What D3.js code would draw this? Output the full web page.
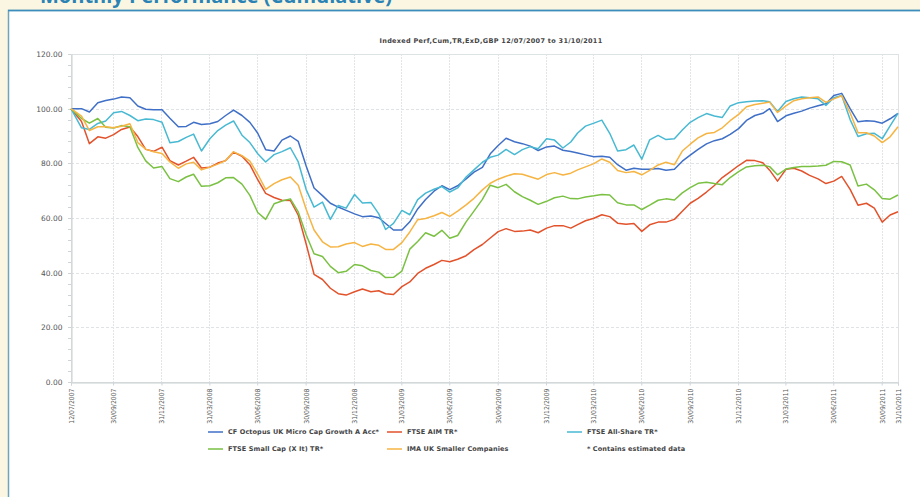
<!DOCTYPE html>
<html>
<head>
<meta charset="utf-8">
<script src="https://cdn.jsdelivr.net/npm/d3@7"></script>
<style>
body { margin: 0; background: #faf6e1; }
svg { display: block; font-family: "DejaVu Sans", sans-serif; }
</style>
</head>
<body>
<svg width="920" height="497"></svg>
<script>
// semi-monthly sample dates
var dates = [
  "2007-07-12","2007-08-01","2007-08-16","2007-09-01","2007-09-16","2007-10-01","2007-10-16","2007-11-01","2007-11-16","2007-12-01","2007-12-16",
  "2008-01-01","2008-01-16","2008-02-01","2008-02-16","2008-03-01","2008-03-16","2008-04-01","2008-04-16","2008-05-01","2008-05-16","2008-06-01","2008-06-16",
  "2008-07-01","2008-07-16","2008-08-01","2008-08-16","2008-09-01","2008-09-16","2008-10-01","2008-10-16","2008-11-01","2008-11-16","2008-12-01","2008-12-16",
  "2009-01-01","2009-01-16","2009-02-01","2009-02-16","2009-03-01","2009-03-16","2009-04-01","2009-04-16","2009-05-01","2009-05-16","2009-06-01","2009-06-16",
  "2009-07-01","2009-07-16","2009-08-01","2009-08-16","2009-09-01","2009-09-16","2009-10-01","2009-10-16","2009-11-01","2009-11-16","2009-12-01","2009-12-16",
  "2010-01-01","2010-01-16","2010-02-01","2010-02-16","2010-03-01","2010-03-16","2010-04-01","2010-04-16","2010-05-01","2010-05-16","2010-06-01","2010-06-16",
  "2010-07-01","2010-07-16","2010-08-01","2010-08-16","2010-09-01","2010-09-16","2010-10-01","2010-10-16","2010-11-01","2010-11-16","2010-12-01","2010-12-16",
  "2011-01-01","2011-01-16","2011-02-01","2011-02-16","2011-03-01","2011-03-16","2011-04-01","2011-04-16","2011-05-01","2011-05-16","2011-06-01","2011-06-16",
  "2011-07-01","2011-07-16","2011-08-01","2011-08-16","2011-09-01","2011-09-16","2011-10-01","2011-10-16","2011-10-31"
];

var octopus = [
  100,100,98.8,102.2,103,103.5,104.3,104,101,99.8,99.6,
  99.6,96.5,93.4,93.5,95,94.2,94.5,95.3,97.5,99.5,97.5,95,91,85,84.5,88.5,90,88,79,71,68.2,65.4,64,62.8,
  61.5,60.5,60.7,60.1,58,55.6,55.6,58.6,63.3,66.8,69.8,71.8,70.4,71.8,74.3,76.8,78.5,83.5,86.5,89.2,87.9,87.2,86.3,84.7,
  86,86.3,84.8,84.3,83.8,83.1,82.4,82.6,82.2,79.5,77.5,78.2,77.8,77.8,78.1,77.5,77.8,80.8,83,85.1,87.1,88.3,89,90.6,
  92.7,95.7,97.5,98.3,100,95.3,97.4,98.3,99.1,100.2,101.1,101.8,104.8,105.6,100,95.2,95.6,95.4,94.7,96.3,98.3
];
var aim = [
  100,95.3,87.2,89.7,89.2,90.5,92.4,93.3,89.8,85.1,84.4,
  85.9,81,79.4,80.8,82.2,78.3,78.6,80.1,81,84.1,82.6,79.5,74,69,67.5,66.5,66.4,61,50.5,39.4,37.5,34.3,32.3,31.8,
  33,34,33,33.4,32.3,32,34.9,36.6,39.7,41.6,43,44.5,44,44.9,46.2,48.4,50.3,52.7,55,56.1,55.1,55.2,55.6,54.6,
  56.3,57.2,57.2,56.3,57.6,59,59.9,61.2,60.5,58.1,57.7,58,55.1,57.5,58.5,58.5,59.5,62.5,65.4,67.2,69.5,71.9,74.8,76.9,
  79.2,81.1,81,80.2,77.5,73.5,77.8,78.2,77.2,75.6,74.3,72.6,73.5,75.2,70.5,64.7,65.4,63.6,58.5,61.1,62.3
];
var allShare = [
  100,93,92.4,94.6,95.5,98.5,99,97.5,95.6,96.2,96,
  95,87.5,88,89.5,90.7,84.5,89,92,94,95.5,90.3,87.6,83.5,80.5,83.2,84.3,85.7,80.5,70.4,64,65.8,59.5,64.6,63.6,
  68.6,65.5,65.7,61.5,55.8,58,62.8,61.2,66.7,69.1,70.5,71.5,69.5,71,75,77.6,80.4,82.2,83,85.1,83.2,85,86.1,85.3,
  89,88.5,85.6,87.8,91.1,93.6,94.7,95.8,91,84.5,85,86.7,81.5,88.6,90.2,88.7,89,92.2,95,96.7,98.2,97.3,96.8,101,
  102.2,102.5,102.8,102.9,102.5,99,102.6,103.6,104.3,104,103.6,101.2,104,104.8,96,89.8,90.8,91,89,93.7,98.3
];
var smallCap = [
  100,96.4,94.7,96.4,93.2,92.9,93.8,93.4,85.8,80.9,78.3,
  78.8,74.4,73.3,75,76,71.6,71.8,72.9,74.7,74.8,72.4,68.3,62,59.5,65.2,66.2,67,62.2,53.9,46.9,45.9,42.3,40,40.5,
  43,42.5,40.8,40.2,38.2,38.3,40.6,48.6,51.4,54.6,53.3,55.5,52.6,53.6,58.6,62.5,66.8,72,71.1,72.3,69.6,67.8,66.5,65,
  66.1,67.4,68,67.1,67,67.7,68.1,68.6,68.4,65.6,64.8,64.8,63.1,64.7,66.5,67,66.6,69.2,71.1,72.7,73.1,72.6,72.2,74.8,
  77,78.7,79.1,79.3,78.8,75.8,77.9,78.5,78.8,78.8,79,79.3,80.7,80.6,79.4,71.7,72.4,70.3,67.1,66.9,68.4
];
var imaSmaller = [
  100,97.3,92,93.4,93.4,93,93.6,94.5,87.6,85.2,84.2,
  83.6,80.5,78.2,79.8,80.4,77.6,78.6,79.7,81,84.2,82.8,80.8,76,70.5,72.6,74,75,72,63.2,55.6,51.3,49.4,49.5,50.5,
  51,49.6,50.5,50,48.5,48.5,51,54.9,59.4,59.8,60.8,62,60.6,62.5,64.8,67.2,70.3,72.7,74.2,75.3,76.2,76,75.1,74.2,
  75.9,76.6,75.7,76.4,77.6,78.7,79.9,81.6,80.4,77.4,76.6,77,75.8,77.4,79.4,80.4,79.5,84.5,87,89.3,90.9,91.3,93,95.6,
  97.9,100.7,101.5,102,102.4,98.6,101,102.9,103.6,104,104.3,102.3,103.6,104.7,98.5,91.2,91.2,90,87.6,89.7,93.4
];

var seriesNames = ["CF Octopus UK Micro Cap Growth A Acc*", "FTSE AIM TR*", "FTSE All-Share TR*", "FTSE Small Cap (X It) TR*", "IMA UK Smaller Companies"];
var seriesValues = [octopus, aim, allShare, smallCap, imaSmaller];
var colors = ["#3f6fc6", "#e2522b", "#48b9d2", "#7ac143", "#f6b443"];

var xTickLabels = ["12/07/2007","30/09/2007","31/12/2007","31/03/2008","30/06/2008","30/09/2008","31/12/2008","31/03/2009",
  "30/06/2009","30/09/2009","31/12/2009","31/03/2010","30/06/2010","30/09/2010","31/12/2010","31/03/2011","30/06/2011","30/09/2011","31/10/2011"];
var yTicks = [0, 20, 40, 60, 80, 100, 120];

var svg = d3.select("svg"),
    width = +svg.attr("width"),
    height = +svg.attr("height");

var parseISO = d3.timeParse("%Y-%m-%d"),
    parseDMY = d3.timeParse("%d/%m/%Y");
var xDates = dates.map(parseISO);

var plotL = 71, plotR = 898, plotT = 54, plotB = 382;

var x = d3.scaleTime().domain([parseDMY("12/07/2007"), parseDMY("31/10/2011")]).range([plotL, plotR]);
var y = d3.scaleLinear().domain([0, 120]).range([plotB, plotT]);

// page header, cut off at the top edge
svg.append("text")
  .attr("x", 40).attr("y", 3)
  .attr("fill", "#2b83b5")
  .style("font-family", "'Open Sans', sans-serif")
  .style("font-weight", "bold")
  .style("font-size", "20px")
  .text("Monthly Performance (Cumulative)");

// white panel
svg.append("rect")
  .attr("x", 8.5).attr("y", 10.5)
  .attr("width", width).attr("height", height)
  .attr("fill", "#fff")
  .attr("stroke", "#6fa2bd")
  .attr("stroke-width", 1.5);
svg.append("line")
  .attr("x1", 8).attr("x2", width).attr("y1", 10.5).attr("y2", 10.5)
  .attr("stroke", "#3b8dbd").attr("stroke-width", 1.5);

// title
svg.append("text")
  .attr("x", 491).attr("y", 43)
  .attr("text-anchor", "middle")
  .attr("fill", "#444")
  .style("font-size", "6.5px")
  .style("font-weight", "bold")
  .style("letter-spacing", "0.3px")
  .text("Indexed Perf,Cum,TR,ExD,GBP 12/07/2007 to 31/10/2011");

// grid
var grid = svg.append("g");
grid.selectAll(".hg")
  .data(yTicks.slice(1, -1))
  .enter().append("line")
  .attr("x1", plotL).attr("x2", plotR)
  .attr("y1", function(d) { return Math.round(y(d)) + 0.5; })
  .attr("y2", function(d) { return Math.round(y(d)) + 0.5; })
  .attr("stroke", "#dfe3e6").attr("stroke-dasharray", "3,2");
grid.selectAll(".vg")
  .data(xTickLabels.slice(1, -1))
  .enter().append("line")
  .attr("x1", function(d) { return Math.round(x(parseDMY(d))) + 0.5; })
  .attr("x2", function(d) { return Math.round(x(parseDMY(d))) + 0.5; })
  .attr("y1", plotT).attr("y2", plotB)
  .attr("stroke", "#e1e5e8").attr("stroke-dasharray", "2,1");

// plot frame
svg.append("rect")
  .attr("x", plotL + 0.5).attr("y", plotT + 0.5)
  .attr("width", plotR - plotL).attr("height", plotB - plotT)
  .attr("fill", "none").attr("stroke", "#dde2e4");

// y axis
var yAxis = svg.append("g")
  .attr("transform", "translate(" + (plotL + 0.5) + ",0)")
  .call(d3.axisLeft(y).tickValues(yTicks).tickFormat(d3.format(".2f")).tickSize(0).tickPadding(9));
yAxis.select(".domain").attr("stroke", "#c9cfd2");
yAxis.selectAll("text").attr("fill", "#555").style("font-size", "7.5px").style("font-family", "'DejaVu Sans', sans-serif");

svg.append("g").selectAll("line")
  .data(d3.range(0, 121, 4))
  .enter().append("line")
  .attr("x1", plotL - 3).attr("x2", plotL)
  .attr("y1", function(d) { return Math.round(y(d)) + 0.5; })
  .attr("y2", function(d) { return Math.round(y(d)) + 0.5; })
  .attr("stroke", "#cfd4d6");

// x axis labels
var xAxis = svg.append("g")
  .attr("transform", "translate(0," + (plotB + 0.5) + ")")
  .call(d3.axisBottom(x).tickValues(xTickLabels.map(parseDMY)).tickFormat(d3.timeFormat("%d/%m/%Y")).tickSize(3));
xAxis.select(".domain").attr("stroke", "#c9cfd2");
xAxis.selectAll(".tick line").attr("stroke", "#cfd4d6");
xAxis.selectAll("text")
  .attr("fill", "#555")
  .style("font-size", "6.8px")
  .style("font-family", "'Liberation Sans Narrow', 'DejaVu Sans Condensed', sans-serif")
  .attr("text-anchor", "end")
  .attr("transform", "rotate(-90)")
  .attr("x", -6).attr("y", 0).attr("dy", "0.35em");

// lines
var line = d3.line()
  .x(function(d, i) { return x(xDates[i]); })
  .y(function(d) { return y(d); });

svg.append("g").selectAll("path")
  .data(seriesValues)
  .enter().append("path")
  .attr("d", line)
  .attr("fill", "none")
  .attr("stroke", function(d, i) { return colors[i]; })
  .attr("stroke-width", 1.5)
  .attr("stroke-linejoin", "round");

// legend
var legendPos = [[208, 432], [387, 432], [567, 432], [208, 449], [387, 449]];
var legend = svg.append("g").selectAll("g")
  .data(seriesNames)
  .enter().append("g")
  .attr("transform", function(d, i) { return "translate(" + legendPos[i][0] + "," + legendPos[i][1] + ")"; });
legend.append("line")
  .attr("x1", 0).attr("x2", 15)
  .attr("stroke", function(d, i) { return colors[i]; })
  .attr("stroke-width", 1.5);
legend.append("text")
  .attr("x", 20).attr("dy", "0.35em")
  .attr("fill", "#444")
  .style("font-size", "6.5px")
  .style("font-weight", "bold")
  .style("letter-spacing", "0.1px")
  .text(function(d) { return d; });

svg.append("text")
  .attr("x", 587).attr("y", 449).attr("dy", "0.35em")
  .attr("fill", "#444")
  .style("font-size", "6.5px")
  .style("font-weight", "bold")
  .style("letter-spacing", "0.1px")
  .text("* Contains estimated data");
</script>
</body>
</html>
